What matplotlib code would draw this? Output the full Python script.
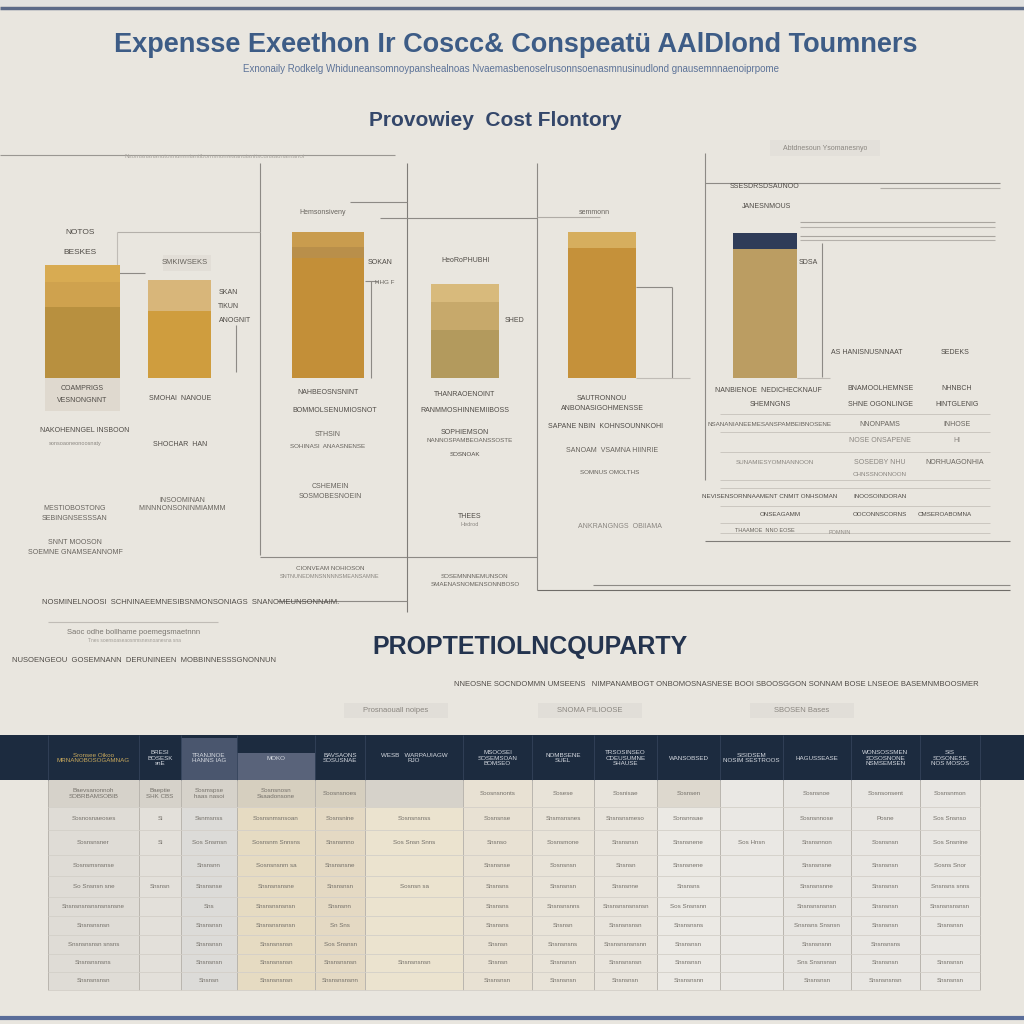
import matplotlib
matplotlib.use("Agg")
import matplotlib.pyplot as plt
from matplotlib.patches import Rectangle

plt.rcParams['font.family'] = ['Liberation Sans Narrow', 'Liberation Sans', 'DejaVu Sans']

# ---------------- data ----------------
categories = ["Cowrenote", "Shmoai Nanoue", "Nahbeosnsnint", "Thanraoenoint", "Sautronnou", "Nanbienoe"]
seg_bottom = [71, 67, 120, 48, 130, 129]
seg_middle = [25, 31, 11, 28, 16, 16]
seg_top = [17, 0, 15, 18, 0, 0]

title = "Expensse Exeethon Ir Coscc& Conspeatü AAlDlond Toumners"
subtitle = ("Exnonaily Rodkelg Whiduneansomnoypanshealnoas Nvaemasbenoselrusonnsoenasmnusinudlond "
            "gnausemnnaenoiprpome")
chart_title = "Provowiey  Cost Flontory"
section_title = "PROPTETIOLNCQUPARTY"

table_headers = ["Sronsee Oikoo\nMRNANOBOSOGAMNAG", "BRESI\nBOSESK\nsnE", "TRANJNOE\nHANNS IAG", "MOKO",
                 "BAVSAONS\nSOSUSNAE", "WESB   WARPAUIAGW\nRJO", "MSOOSEI\nSOSEMSOAN\nBOMSEO", "NOMBSENE\nSUEL",
                 "TRSOSINSEO\nCDEUSUMNE\nSHAUSE", "WANSOBSED", "SISIDSEM\nNOSIM SESTROOS",
                 "HAGUSSEASE", "WONSOSSMEN\nSOSOSNONE\nNSMSEMSEN", "SIS\nSOSONESE\nNOS MOSOS"]
table_rows = [
    ["Baevsanonnoh\nSOBRBAMSOBIB", "Baeptie\nSHK CBS", "Sosmspse\nhaas nasoi", "Sosnsnosn\nSsaadonsone",
     "Soosnsnoes", "", "Soosnsnonts", "Sosese", "Sosnisae", "Sosnsen", "", "Sosnsnoe", "Sosnsonsent", "Sosnsnmon"],
    ["Sosnosnaeoses", "Si", "Ssnmsnss", "Sosnsnmsnsoan", "Sosnsnine", "Sosnsnsnss", "Sosnsnse", "Snsmsnsnes",
     "Snsnsnsmeso", "Sonsnnsae", "", "Sosnsnnose", "Posne", "Sos Snsnso"],
    ["Sosnsnsner", "Si", "Sos Snsmsn", "Sosnsnm Snnsns", "Snsnsmno", "Sos Snsn Snns", "Snsnso", "Sosnsmone",
     "Snsnsnsn", "Snsnsnene", "Sos Hnsn", "Snsnsnnon", "Sosnsnsn", "Sos Snsnine"],
    ["Sosnsmsnsnse", "", "Snsnsnn", "Sosnsnsnm sa", "Snsnsnsne", "", "Snsnsnse", "Sosnsnsn", "Snsnsn",
     "Snsnsnene", "", "Snsnsnsne", "Snsnsnsn", "Sosns Snor"],
    ["So Snsnsn sne", "Snsnsn", "Snsnsnse", "Snsnsnsnsne", "Snsnsnsn", "Sosnsn sa", "Snsnsns", "Snsnsnsn",
     "Snsnsnne", "Snsnsns", "", "Snsnsnsnne", "Snsnsnsn", "Snsnsns snns"],
    ["Snsnsnsnsnsnsnsnsne", "", "Sns", "Snsnsnsnsnsn", "Snsnsnn", "", "Snsnsns", "Snsnsnsnns",
     "Snsnsnsnsnsnsn", "Sos Snsnsnn", "", "Snsnsnsnsnsn", "Snsnsnsn", "Snsnsnsnsnsn"],
    ["Snsnsnsnsn", "", "Snsnsnsn", "Snsnsnsnsnsn", "Sn Sns", "", "Snsnsns", "Snsnsn", "Snsnsnsnsn",
     "Snsnsnsns", "", "Snsnsns Snsnsn", "Snsnsnsn", "Snsnsnsn"],
    ["Snsnsnsnsn snsns", "", "Snsnsnsn", "Snsnsnsnsn", "Sos Snsnsn", "", "Snsnsn", "Snsnsnsns",
     "Snsnsnsnsnsnn", "Snsnsnsn", "", "Snsnsnsnn", "Snsnsnsns", ""],
    ["Snsnsnsnsns", "", "Snsnsnsn", "Snsnsnsnsn", "Snsnsnsnsn", "Snsnsnsnsn", "Snsnsn", "Snsnsnsn",
     "Snsnsnsnsn", "Snsnsnsn", "", "Sns Snsnsnsn", "Snsnsnsn", "Snsnsnsn"],
    ["Snsnsnsnsn", "", "Snsnsn", "Snsnsnsnsn", "Snsnsnsnsnn", "", "Snsnsnsn", "Snsnsnsn",
     "Snsnsnsn", "Snsnsnsnn", "", "Snsnsnsn", "Snsnsnsnsn", "Snsnsnsn"],
]

# ---------------- layout / style ----------------
BG = "#e9e6df"
bar_centers = [82.5, 179.5, 328, 465, 602, 765]
bar_widths = [75, 63, 72, 68, 68, 64]
col_bottom = ["#b8903f", "#cf9d3e", "#c38f38", "#b39a5d", "#c5913a", "#bb9d62"]
col_middle = ["#cfa24e", "#d8b67a", "#b98f4a", "#c7a96b", "#d6ae5e", "#2f3c58"]
col_top = ["#d8ab52", "#d8b67a", "#c99c4e", "#d8ba7c", "#d6ae5e", "#2f3c58"]
BASE_Y = 378  # pixel baseline of bars
col_edges = [48, 139, 181, 237, 315, 365, 463, 532, 594, 657, 720, 783, 851, 920, 980]
row_edges = [780, 807, 830, 855, 876, 897, 916, 935, 954, 972, 990]
col_tints = ["#dfdcd6", "#e3e0da", "#dcdbd8", "#e6dbc2", "#e4d9c3", "#ebe3cf", "#e8e1d3",
             "#e8e3d8", "#e8e4dc", "#ebe9e4", "#eae8e4", "#e7e5e1", "#e8e6e2", "#e9e7e3"]

fig = plt.figure(figsize=(10.24, 10.24), dpi=100)
fig.patch.set_facecolor(BG)

bg = fig.add_axes([0, 0, 1, 1])
bg.set_xlim(0, 1024)
bg.set_ylim(1024, 0)
bg.axis("off")
bg.set_facecolor(BG)


def txt(x, y, s, size=5.5, color="#6e6a64", weight="normal", ha="center", **kw):
    bg.text(x, y, s, fontsize=size, color=color, fontweight=weight, ha=ha, va="center", **kw)


def hline(y, x0, x1, color="#8d8a85", lw=0.8):
    bg.plot([x0, x1], [y, y], color=color, lw=lw, solid_capstyle="butt")


def vline(x, y0, y1, color="#8d8a85", lw=0.8):
    bg.plot([x, x], [y0, y1], color=color, lw=lw, solid_capstyle="butt")


# frame lines
bg.add_patch(Rectangle((0, 0), 1024, 6, color="#e2e2e0", lw=0))
hline(8, 0, 1024, color="#5b6a88", lw=2.5)
hline(1018, 0, 1024, color="#5a6d99", lw=3)

# titles
txt(516, 45, title, size=19.5, color="#3d5c86", weight="bold")
txt(511, 69, subtitle, size=7, color="#5d7398")
txt(495, 120, chart_title, size=15, color="#34476a", weight="bold")
txt(530, 647, section_title, size=18, color="#24344f", weight="bold")

# decorative structure lines
hline(155, 0, 395, color="#9a9792")
txt(215, 157, "Nsomanananutosnummiantibornsnomeaanuianitscunaaunamanoi", size=4.5, color="#a9a59f")
vline(260, 163, 555)
hline(557, 260, 537)
vline(407, 163, 612, color="#7f7c78")
hline(601, 277, 407)
vline(537, 163, 590)
hline(590, 537, 1010, color="#6f6c68")
hline(585, 593, 1010, color="#8d8a85")
hline(232, 117, 260, color="#b4b0aa")
vline(117, 232, 273, color="#c0bcb6")
hline(273, 117, 145, color="#8d8a85")
vline(236, 325, 372)
vline(371, 281, 378)
hline(281, 365, 378)
hline(202, 350, 407, color="#8d8a85")
hline(218, 380, 537, color="#8d8a85")
hline(217, 537, 600, color="#b0aca6")
vline(705, 153, 480, color="#8d8a85")
hline(541, 705, 1010, color="#7f7c78")
hline(183, 705, 1000, color="#8d8a85")
hline(188, 880, 1000, color="#b0aca6")
hline(222, 800, 995, color="#a9a59f")
hline(227, 800, 995, color="#b5b1ab")
hline(236, 800, 995, color="#a9a59f")
hline(240, 800, 995, color="#b5b1ab")
vline(822, 243, 377)
vline(672, 287, 378)
hline(287, 636, 672)
hline(378, 636, 690, color="#c0bcb6")
hline(378, 797, 830, color="#c0bcb6")
for yy in [414, 432, 452, 480, 488, 506, 523, 533]:
    hline(yy, 720, 990, color="#c6c2bb", lw=0.6)

# light label boxes
bg.add_patch(Rectangle((45, 378), 75, 33, color="#dfd9cf", lw=0))
bg.add_patch(Rectangle((163, 255), 48, 16, color="#e2ded7", lw=0))
bg.add_patch(Rectangle((770, 140), 110, 16, color="#e3e0da", lw=0))

# bar chart axes aligned with pixel frame
bax = fig.add_axes([0, 1 - BASE_Y / 1024, 1, 170 / 1024])
bax.set_xlim(0, 1024)
bax.set_ylim(0, 170)
bax.axis("off")
bax.patch.set_alpha(0)
bax.bar(bar_centers, seg_bottom, width=bar_widths, color=col_bottom, lw=0)
bax.bar(bar_centers, seg_middle, width=bar_widths, bottom=seg_bottom, color=col_middle, lw=0)
bot3 = [a + b for a, b in zip(seg_bottom, seg_middle)]
bax.bar(bar_centers, seg_top, width=bar_widths, bottom=bot3, color=col_top, lw=0)

# small labels around the bars
D, M, L = "#4f4b46", "#67635d", "#8a8680"
labels = [
    (80, 232, "NOTOS", 6, D), (80, 252, "BESKES", 6, D),
    (185, 263, "SMKIWSEKS", 5.5, M), (82, 283, "TOBE SDOCKOINE", 4.5, "#8a6a30"),
    (228, 293, "SKAN", 5, D), (228, 306, "TIKUN", 5, D), (235, 320, "ANOGNIT", 5, D),
    (323, 212, "Hemsonsiveny", 5, M), (380, 262, "SOKAN", 5, D), (385, 282, "HHG F", 4.5, M),
    (594, 213, "semmonn", 5, M), (466, 261, "HeoRoPHUBHI", 5, D), (515, 320, "SHED", 5, D),
    (623, 267, "SOOKS", 5, D), (808, 263, "SDSA", 5, D),
    (765, 186, "SSESDRSDSAUNOO", 5, D), (767, 207, "JANESNMOUS", 5, D),
    (867, 352, "AS HANISNUSNNAAT", 5, D), (955, 352, "SEDEKS", 5, D),
    (825, 148, "Abtdnesoun Ysomanesnyo", 5, L),
    (82, 388, "COAMPRIGS", 5, D), (82, 401, "VESNONGNNT", 5, D),
    (180, 398, "SMOHAI  NANOUE", 5, D),
    (328, 392, "NAHBEOSNSNINT", 5, D), (335, 410, "BOMMOLSENUMIOSNOT", 5, D),
    (465, 395, "THANRAOENOINT", 5, D), (465, 410, "RANMMOSHINNEMIIBOSS", 5, D),
    (602, 398, "SAUTRONNOU", 5, D), (602, 409, "ANBONASIGOHMENSSE", 5, D),
    (768, 390, "NANBIENOE  NEDICHECKNAUF", 5, D), (770, 405, "SHEMNGNS", 5, D),
    (880, 388, "BNAMOOLHEMNSE", 5, D), (880, 405, "SHNE OGONLINGE", 5, D),
    (957, 388, "NHNBCH", 5, D), (957, 405, "HINTGLENIG", 5, D),
    (85, 430, "NAKOHENNGEL INSBOON", 5, D), (75, 444, "sonsoaoneonoosnaty", 4, L),
    (180, 445, "SHOCHAR  HAN", 5, D),
    (328, 434, "STHSIN", 5, M), (328, 446, "SOHINASI  ANAASNENSE", 4.5, M),
    (465, 432, "SOPHIEMSON", 5, D), (470, 441, "NANNOSPAMBEOANSSOSTE", 4.5, M),
    (465, 455, "SOSNOAK", 4.5, D),
    (605, 426, "SAPANE NBIN  KOHNSOUNNKOHI", 5, D), (612, 450, "SANOAM  VSAMNA HIINRIE", 5, M),
    (610, 473, "SOMNUS OMOLTHS", 4.5, M),
    (770, 424, "NSANANIANEEMESANSPAMBEIBNOSENE", 4.5, M), (880, 424, "NNONPAMS", 5, M),
    (880, 440, "NOSE ONSAPENE", 5, L), (957, 424, "INHOSE", 5, M), (957, 440, "HI", 5, L),
    (775, 462, "SUNAMIESYOMNANNOON", 4.5, L), (880, 462, "SOSEDBY NHU", 5, L),
    (955, 462, "NORHUAGONHIA", 5, M), (880, 474, "CHNSSNONNOON", 4.5, L),
    (770, 497, "NEVISENSORNNAAMENT CNMIT ONHSOMAN", 4.5, D), (880, 497, "INOOSOINDORAN", 4.5, D),
    (780, 514, "ONSEAGAMM", 4.5, D), (880, 515, "OOCONNSCORNS", 4.5, D),
    (945, 515, "CMSEROABOMNA", 4.5, D), (765, 530, "THAAMOE  NNO EOSE", 4, M),
    (840, 533, "POMNIN", 4, L), (620, 527, "ANKRANGNGS  OBIIAMA", 5, L),
    (75, 508, "MESTIOBOSTONG", 5, M), (75, 518, "SEBINGNSESSSAN", 5, M),
    (182, 500, "INSOOMINAN", 5, M), (182, 509, "MINNNONSONINMIAMMM", 5, M),
    (330, 487, "CSHEMEIN", 5, M), (330, 496, "SOSMOBESNOEIN", 5, M),
    (470, 517, "THEES", 5, D), (470, 525, "Hedrod", 4, L),
    (75, 543, "SNNT MOOSON", 5, M), (75, 552, "SOEMNE GNAMSEANNOMF", 5, M),
    (330, 568, "CIONVEAM NOHIOSON", 4.5, M), (330, 576, "SNTNUNEDMNSNNNNSMEANSAMNE", 4, L),
    (475, 576, "SOSEMNNNEMUNSON", 4.5, M), (475, 585, "SMAENASNOMENSONNBOSO", 4.5, M),
]
for (x, y, s, fs, c) in labels:
    txt(x, y, s, size=fs, color=c)

txt(42, 602, "NOSMINELNOOSI  SCHNINAEEMNESIBSNMONSONIAGS  SNANOMEUNSONNAIM.", size=5.5, color="#4f4b46", ha="left")
hline(622, 48, 218, color="#c0bcb6")
txt(134, 632, "Saoc odhe bollhame poemegsmaetnnn", size=5.5, color="#7a7670")
txt(134, 641, "Tnes soensoaseaosnmsnesnoanesna sna", size=3.5, color="#a09c96")
txt(12, 661, "NUSOENGEOU  GOSEMNANN  DERUNINEEN  MOBBINNESSSGNONNUN", size=5.5, color="#4f4b46", ha="left")
txt(716, 684, "NNEOSNE SOCNDOMMN UMSEENS   NIMPANAMBOGT ONBOMOSNASNESE BOOI SBOOSGGON SONNAM BOSE LNSEOE BASEMNMBOOSMER",
    size=5.5, color="#4f4b46")
for (x, s) in [(396, "Prosnaouall noipes"), (590, "SNOMA PILIOOSE"), (802, "SBOSEN Bases")]:
    bg.add_patch(Rectangle((x - 52, 703), 104, 15, color="#e1ded8", lw=0))
    txt(x, 710, s, size=5.5, color="#8a8680")

# ---------------- table ----------------
bg.add_patch(Rectangle((0, 735), 1024, 45, color="#1c2b3f", lw=0))
bg.add_patch(Rectangle((181, 738), 56, 42, color="#4a566e", lw=0))
bg.add_patch(Rectangle((237, 753), 78, 27, color="#59637a", lw=0))
for i in range(len(col_edges) - 1):
    x0, x1 = col_edges[i], col_edges[i + 1]
    bg.add_patch(Rectangle((x0, row_edges[0]), x1 - x0, row_edges[-1] - row_edges[0],
                           color=col_tints[i], lw=0))
    if i <= 5:
        first = "#d6cfbf" if i in (3, 4) else "#d6d2ca"
        bg.add_patch(Rectangle((x0, row_edges[0]), x1 - x0, row_edges[1] - row_edges[0], color=first, lw=0))
    if i == 9:
        bg.add_patch(Rectangle((x0, row_edges[0]), x1 - x0, row_edges[1] - row_edges[0], color="#ddd8ce", lw=0))
for x in col_edges:
    vline(x, 735, 780, color="#33425a", lw=0.6)
    vline(x, 780, 990, color="#b9b5ae", lw=0.7)
for y in row_edges[1:]:
    hline(y, col_edges[0], col_edges[-1], color="#d3cfc8", lw=0.6)

for i, h in enumerate(table_headers):
    cx = (col_edges[i] + col_edges[i + 1]) / 2
    hc = "#c9a95c" if i == 0 else "#d5d9e0"
    txt(cx, 758, h, size=4.5, color=hc, linespacing=1.2)
for r, row in enumerate(table_rows):
    cy = (row_edges[r] + row_edges[r + 1]) / 2
    for i, s in enumerate(row):
        if s:
            cx = (col_edges[i] + col_edges[i + 1]) / 2
            txt(cx, cy, s, size=4.5, color="#75716a", linespacing=1.1)

fig.savefig("out.png", dpi=100, facecolor=BG)
